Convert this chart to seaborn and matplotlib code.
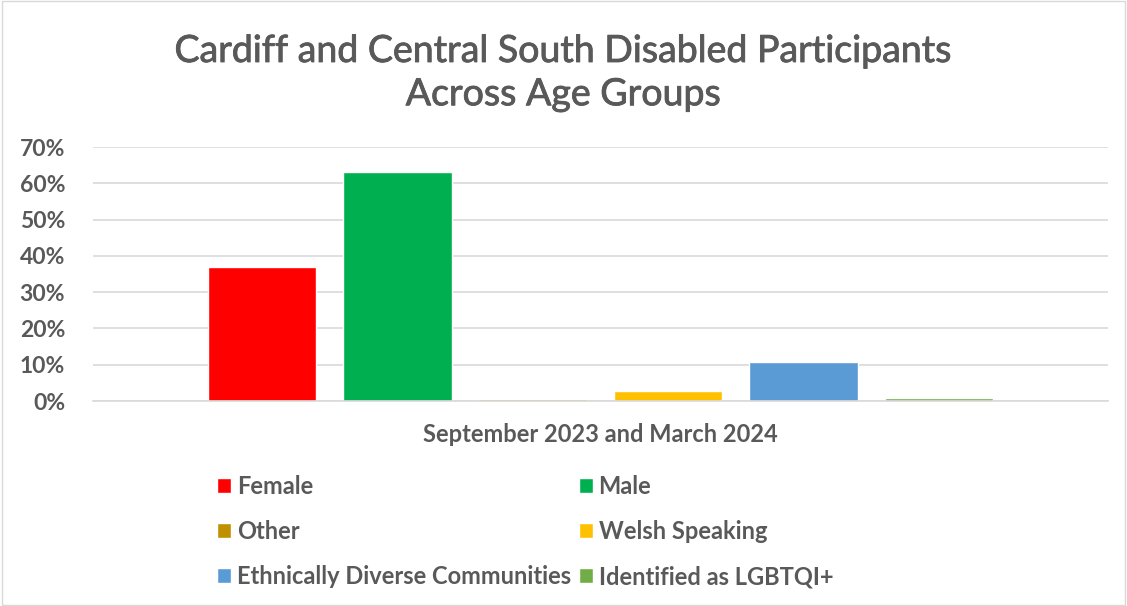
import pandas as pd
import matplotlib.pyplot as plt
import seaborn as sns
from matplotlib.patches import Rectangle
import matplotlib.patheffects as pe

# Data
period = ['September 2023 and March 2024']
groups = ['Female', 'Male', 'Other', 'Welsh Speaking',
          'Ethnically Diverse Communities', 'Identified as LGBTQI+']
shares = [37, 63, 0.5, 2.8, 10.8, 0.7]
colours = ['#FF0000', '#00B050', '#BF9000', '#FFC000', '#5B9BD5', '#70AD47']

df = pd.DataFrame({'Period': period * len(groups), 'Group': groups, 'Share': shares})

sns.set_theme(style='white')
plt.rcParams['font.family'] = ['Lato', 'DejaVu Sans']
plt.rcParams['font.weight'] = 'bold'
text_col = '#595959'

fig = plt.figure(figsize=(11.27, 6.06), dpi=100)
ax = fig.add_axes([93 / 1127, 1 - 401 / 606, 1015 / 1127, 254 / 606])

sns.barplot(data=df, x='Period', y='Share', hue='Group', palette=colours,
            width=0.8, gap=0.2, ax=ax, legend=True, saturation=1)

ax.set_ylim(0, 70)
ax.set_xlim(-0.5, 0.5)
ax.set_yticks(range(0, 71, 10))
ax.set_yticklabels([f'{v}%' for v in range(0, 71, 10)], color=text_col, fontsize=16.5)
ax.tick_params(axis='x', colors=text_col, labelsize=17, length=0, pad=16)
ax.tick_params(axis='y', length=0, pad=20)
ax.set_xlabel('')
ax.set_ylabel('')
ax.yaxis.grid(True, color='#D9D9D9', linewidth=1.2)
ax.set_axisbelow(True)
for s in ['top', 'right', 'left']:
    ax.spines[s].set_visible(False)
ax.spines['bottom'].set_color('#D9D9D9')
ax.spines['bottom'].set_linewidth(1.2)

# title is a medium weight: regular face with a thin stroke
fig.suptitle('Cardiff and Central South Disabled Participants\nAcross Age Groups',
             y=1 - 33 / 606, va='top', fontsize=27, fontweight='normal',
             color=text_col, linespacing=1.25,
             path_effects=[pe.withStroke(linewidth=0.6, foreground=text_col)])

# legend filled row by row, like Excel
handles, labels = ax.get_legend_handles_labels()
ax.get_legend().remove()
order = [0, 2, 4, 1, 3, 5]
fig.legend([handles[i] for i in order], [labels[i] for i in order], ncol=2,
           loc='upper left', bbox_to_anchor=(196 / 1127, 1 - 454 / 606), frameon=False,
           fontsize=17, labelcolor=text_col, handlelength=0.6, handleheight=0.6,
           handletextpad=0.25, columnspacing=0.3, labelspacing=0.93)

fig.patches.append(Rectangle((0.002, 0.002), 0.996, 0.996, transform=fig.transFigure,
                             fill=False, edgecolor='#D9D9D9', linewidth=1))

fig.savefig('out.png', dpi=100)
